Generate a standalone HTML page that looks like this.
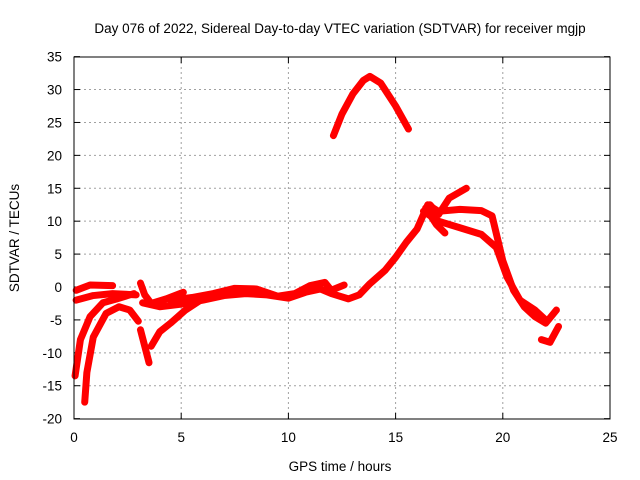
<!DOCTYPE html>
<html><head><meta charset="utf-8"><style>
body{margin:0;background:#fff;}
svg{display:block;font-family:"Liberation Sans",sans-serif;}
</style></head><body>
<svg id="chart" width="640" height="480">
<text x="340" y="33" font-size="13.5" text-anchor="middle">Day 076 of 2022, Sidereal Day-to-day VTEC variation (SDTVAR) for receiver mgjp</text>
<text x="340" y="471" font-size="13.5" text-anchor="middle">GPS time / hours</text>
<text transform="translate(19,238) rotate(-90)" font-size="13.5" text-anchor="middle">SDTVAR / TECUs</text>
<g id="grid"></g><g id="ticks"></g><g id="series"></g>
<rect x="74" y="57" width="536" height="362" fill="none" stroke="#000" stroke-width="1"/>
</svg>
<script>
const xTicks=[0,5,10,15,20,25];
const yTicks=[-20,-15,-10,-5,0,5,10,15,20,25,30,35];
const trackA=[[0.05,-13.5],[0.3,-8],[0.75,-4.5],[1.35,-2.4],[2,-1.8],[2.8,-1]];
const trackB=[[0.5,-17.5],[0.6,-13],[0.9,-7.6],[1.5,-4],[2.1,-3],[2.6,-3.5],[3,-5.2]];
const trackC=[[0.1,-0.5],[0.75,0.3],[1.8,0.2]];
const trackC2=[[0.1,-2],[0.9,-1.3],[1.8,-1],[2.9,-1.2]];
const trackD=[[3.1,0.6],[3.3,-1.2],[3.6,-2.5],[4.3,-1.8],[5.1,-0.8]];
const trackE=[[3.1,-6.5],[3.3,-9],[3.5,-11.5]];
const trackF=[[3.6,-9],[4,-6.8],[4.5,-5.5],[5.2,-3.5],[5.9,-2]];
const trackG=[[3.2,-2.4],[4,-3],[5,-2.6],[6,-2],[7,-1.3],[8,-1],[9,-1.2],[10,-1.7],[10.8,-0.8],[11.5,-0.3],[12,-1],[12.8,-1.8],[13.3,-1.2],[13.8,0.5],[14.5,2.5],[15,4.5],[15.5,6.8],[16,8.8],[16.5,12.5],[17,11.5],[18,11.8],[19,11.6],[19.5,10.8],[20,4],[20.5,-0.5],[21,-3],[21.5,-4.5],[22,-5.5],[22.5,-3.5]];
const trackH=[[4.5,-2],[5.5,-1.6],[6.5,-1],[7.5,-0.2],[8.5,-0.3],[9.5,-1.4],[10.3,-1],[11,0.2],[11.7,0.7],[12,-0.5],[12.6,0.3]];
const trackI=[[16.3,11.5],[17,10],[18,9],[19,8],[19.7,6],[20.2,1.5],[20.8,-2],[21.5,-3.5],[22,-5]];
const trackJ=[[16.6,12.5],[17,11],[17.5,13.5],[18.3,15]];
const trackK=[[16.4,12],[16.9,9.5],[17.3,8.2]];
const trackL=[[21.8,-8],[22.2,-8.4],[22.6,-6]];
const trackArc=[[12.1,23],[12.5,26.3],[13,29.3],[13.5,31.4],[13.8,32],[14.3,31],[15,27.5],[15.6,24]];
const series=[trackA,trackB,trackC,trackC2,trackD,trackE,trackF,trackG,trackH,trackI,trackJ,trackK,trackL,trackArc];
const X=h=>74+h*536/25, Y=v=>287-v*362/55;
const NS="http://www.w3.org/2000/svg";
const g=document.getElementById('grid'),t=document.getElementById('ticks'),s=document.getElementById('series');
function mk(tag,attrs,parent){const e=document.createElementNS(NS,tag);for(const k in attrs)e.setAttribute(k,attrs[k]);parent.appendChild(e);return e;}
xTicks.forEach(v=>{const x=X(v);
 if(v>0&&v<25){const l=mk('line',{x1:x,x2:x,y1:57,y2:419,stroke:'#a0a0a0','stroke-dasharray':'2,3'},g);
 
 }
 mk('line',{x1:x,x2:x,y1:419,y2:413,stroke:'#000'},t);mk('line',{x1:x,x2:x,y1:57,y2:63,stroke:'#000'},t);
 const tx=mk('text',{x:x,y:442,'font-size':13.5,'text-anchor':'middle'},t);tx.textContent=v;
 
 });
yTicks.forEach(v=>{const y=Y(v);
 if(v>-20&&v<35){const l=mk('line',{x1:74,x2:610,y1:y,y2:y,stroke:'#a0a0a0','stroke-dasharray':'2,3'},g);
 
 }
 mk('line',{x1:74,x2:80,y1:y,y2:y,stroke:'#000'},t);mk('line',{x1:610,x2:604,y1:y,y2:y,stroke:'#000'},t);
 const tx=mk('text',{x:62,y:y+5,'font-size':13.5,'text-anchor':'end'},t);tx.textContent=v;
 
 });
series.forEach(tr=>{const p=mk('polyline',{points:tr.map(d=>X(d[0])+','+Y(d[1])).join(' '),fill:'none',stroke:'#ff0000','stroke-width':7,'stroke-linejoin':'round','stroke-linecap':'round'},s);
 
 });
</script>
</body></html>
